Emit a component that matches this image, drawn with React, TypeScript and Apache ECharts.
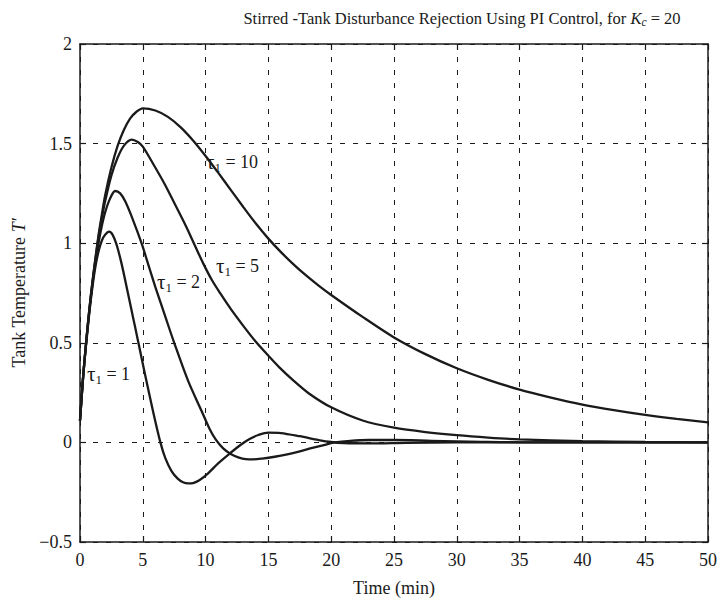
import React, { useEffect, useRef } from "react";
import * as echarts from "echarts";

// Time samples (min) and responses T' for each tau_I
const t1 = [0, 0.25, 0.5, 0.75, 1.0, 1.25, 1.5, 1.75, 2.0, 2.33, 2.6, 2.9, 3.3, 3.78, 4.2, 4.65, 5.2, 5.8, 6.4, 6.8, 7.3, 7.8, 8.2, 8.6, 9.0, 9.5, 10.2, 11.0, 11.9, 12.8, 13.5, 14.2, 15.0, 16.0, 17.5, 19.0, 20.0, 21.0, 23.0, 26.0, 30.0, 50.0];
const v1 = [0.11, 0.33, 0.5, 0.655, 0.785, 0.89, 0.965, 1.015, 1.043, 1.058, 1.042, 0.995, 0.9, 0.76, 0.635, 0.5, 0.335, 0.16, 0.0, -0.08, -0.145, -0.183, -0.2, -0.206, -0.204, -0.19, -0.155, -0.105, -0.057, -0.012, 0.017, 0.037, 0.049, 0.047, 0.031, 0.012, 0.002, -0.003, -0.005, -0.002, 0.0, 0.0];

const t2 = [0, 0.25, 0.5, 0.75, 1.0, 1.25, 1.5, 1.75, 2.0, 2.4, 2.8, 3.2, 3.6, 4.2, 4.9, 5.5, 6.0, 6.8, 7.5, 8.6, 9.7, 10.3, 10.8, 11.4, 12.0, 12.6, 13.2, 13.8, 14.5, 15.5, 16.5, 17.5, 18.5, 19.5, 20.3, 21.5, 23.0, 25.0, 28.0, 32.0, 36.0, 50.0];
const v2 = [0.11, 0.33, 0.51, 0.665, 0.8, 0.915, 1.01, 1.09, 1.155, 1.225, 1.262, 1.25, 1.21, 1.12, 1.0, 0.88, 0.78, 0.63, 0.5, 0.31, 0.155, 0.07, 0.015, -0.03, -0.058, -0.075, -0.084, -0.085, -0.081, -0.072, -0.06, -0.045, -0.028, -0.012, 0.0, 0.008, 0.012, 0.012, 0.008, 0.003, 0.0, 0.0];

const t5 = [0, 0.25, 0.5, 0.75, 1.0, 1.25, 1.5, 1.75, 2.0, 2.5, 3.0, 3.5, 4.12, 4.6, 5.0, 5.9, 6.8, 7.6, 8.4, 9.1, 9.8, 10.5, 11.2, 12.0, 13.0, 14.0, 15.0, 15.85, 17.0, 18.2, 20.0, 22.5, 25.0, 27.5, 30.0, 32.5, 35.0, 40.0, 45.0, 50.0];
const v5 = [0.11, 0.33, 0.51, 0.67, 0.81, 0.93, 1.04, 1.13, 1.21, 1.34, 1.43, 1.49, 1.52, 1.508, 1.485, 1.39, 1.29, 1.19, 1.09, 0.995, 0.9, 0.815, 0.745, 0.67, 0.585, 0.505, 0.435, 0.378, 0.31, 0.247, 0.176, 0.11, 0.074, 0.052, 0.036, 0.024, 0.015, 0.006, 0.002, 0.0];

const t10 = [0, 0.25, 0.5, 0.75, 1.0, 1.25, 1.5, 1.75, 2.0, 2.5, 3.0, 3.5, 4.0, 4.5, 5.0, 6.0, 7.0, 8.0, 9.0, 10.0, 11.0, 12.0, 13.0, 14.0, 15.0, 16.0, 17.0, 18.0, 19.0, 20.0, 22.5, 25.0, 27.5, 30.0, 32.5, 35.0, 37.5, 40.0, 42.5, 45.0, 47.5, 50.0];
const v10 = [0.11, 0.33, 0.51, 0.67, 0.81, 0.935, 1.05, 1.148, 1.24, 1.38, 1.49, 1.57, 1.627, 1.66, 1.677, 1.666, 1.634, 1.583, 1.516, 1.438, 1.354, 1.268, 1.182, 1.099, 1.023, 0.955, 0.894, 0.838, 0.787, 0.74, 0.63, 0.527, 0.443, 0.372, 0.314, 0.265, 0.225, 0.19, 0.162, 0.138, 0.118, 0.101];

const curveLabels = ["1", "2", "5", "10"];
const xTicks = [0, 5, 10, 15, 20, 25, 30, 35, 40, 45, 50];
const yTicks = [-0.5, 0, 0.5, 1, 1.5, 2];

const FONT = "'Liberation Serif', 'Times New Roman', serif";
const INK = "#1a1a1a";

function pairs(t: number[], v: number[]) {
  return t.map((x, i) => [x, v[i]]);
}

export default function App() {
  const ref = useRef<HTMLDivElement>(null);
  useEffect(() => {
    if (!ref.current) return;
    const chart = echarts.init(ref.current, null, { renderer: "svg" });
    const lineSeries = (t: number[], v: number[], name: string) => ({
      type: "line",
      name,
      data: pairs(t, v),
      smooth: 0.3,
      showSymbol: false,
      symbol: "none",
      xAxisIndex: 0,
      yAxisIndex: 0,
      lineStyle: { color: INK, width: 2.3 },
      z: 5,
    });
    const tauLabel = (x: number, y: number, val: string) => ({
      type: "text",
      x,
      y,
      style: {
        text: "{t|τ}{s|1}{n| = " + val + "}",
        fill: INK,
        verticalAlign: "middle",
        rich: {
          t: { fontFamily: FONT, fontSize: 21, fill: INK },
          s: { fontFamily: FONT, fontSize: 13, fill: INK, padding: [10, 0, 0, 0] },
          n: { fontFamily: FONT, fontSize: 18, fill: INK },
        },
      },
      z: 10,
    });
    const fmt = (v: number) => (v < 0 ? "\u2212" + String(-v) : String(v));
    chart.setOption({
      animation: false,
      backgroundColor: "#ffffff",
      title: {
        text: "Stirred -Tank Disturbance Rejection Using PI Control, for {i|K}{s|c} = 20",
        left: 457,
        top: 3,
        textAlign: "center",
        textStyle: {
          fontFamily: FONT,
          fontSize: 16.5,
          fontWeight: "normal",
          color: INK,
          rich: {
            i: { fontFamily: FONT, fontSize: 16.5, fontStyle: "italic", color: INK },
            s: { fontFamily: FONT, fontSize: 11.5, fontStyle: "italic", color: INK, padding: [8, 0, 0, 0] },
          },
        },
      },
      grid: { left: 80, right: 9, top: 44, bottom: 59, containLabel: false },
      xAxis: [
        {
          type: "value",
          min: xTicks[0],
          max: xTicks[xTicks.length - 1],
          interval: 5,
          position: "bottom",
          name: "Time (min)",
          nameLocation: "middle",
          nameGap: 37,
          nameTextStyle: { fontFamily: FONT, fontSize: 18, color: INK },
          axisLine: { show: true, onZero: false, lineStyle: { color: INK, width: 1.5 } },
          axisTick: { show: true, inside: true, length: 6, lineStyle: { color: INK, width: 1.2 } },
          axisLabel: { fontFamily: FONT, fontSize: 18, color: INK, margin: 9 },
          splitLine: { show: true, lineStyle: { color: INK, width: 1, type: [5, 8] } },
        },
        {
          type: "value",
          min: xTicks[0],
          max: xTicks[xTicks.length - 1],
          interval: 5,
          position: "top",
          axisLine: { show: true, onZero: false, lineStyle: { color: INK, width: 1.5 } },
          axisTick: { show: true, inside: true, length: 6, lineStyle: { color: INK, width: 1.2 } },
          axisLabel: { show: false },
          splitLine: { show: false },
        },
      ],
      yAxis: [
        {
          type: "value",
          min: yTicks[0],
          max: yTicks[yTicks.length - 1],
          interval: 0.5,
          position: "left",
          name: "Tank Temperature {i|T\u2032}",
          nameLocation: "middle",
          nameGap: 50,
          nameTextStyle: {
            fontFamily: FONT,
            fontSize: 18,
            color: INK,
            rich: { i: { fontFamily: FONT, fontSize: 18, fontStyle: "italic", color: INK } },
          },
          axisLine: { show: true, onZero: false, lineStyle: { color: INK, width: 1.5 } },
          axisTick: { show: true, inside: true, length: 6, lineStyle: { color: INK, width: 1.2 } },
          axisLabel: { fontFamily: FONT, fontSize: 18, color: INK, margin: 8, formatter: fmt },
          splitLine: { show: true, lineStyle: { color: INK, width: 1, type: [5, 8] } },
        },
        {
          type: "value",
          min: yTicks[0],
          max: yTicks[yTicks.length - 1],
          interval: 0.5,
          position: "right",
          axisLine: { show: true, onZero: false, lineStyle: { color: INK, width: 1.5 } },
          axisTick: { show: true, inside: true, length: 6, lineStyle: { color: INK, width: 1.2 } },
          axisLabel: { show: false },
          splitLine: { show: false },
        },
      ],
      series: [
        lineSeries(t1, v1, "tau1"),
        lineSeries(t2, v2, "tau2"),
        lineSeries(t5, v5, "tau5"),
        lineSeries(t10, v10, "tau10"),
      ],
      graphic: [
        tauLabel(87, 374, curveLabels[0]),
        tauLabel(157, 282, curveLabels[1]),
        tauLabel(216, 266, curveLabels[2]),
        tauLabel(206, 162, curveLabels[3]),
      ],
    });
    return () => chart.dispose();
  }, []);
  return (
    <div
      ref={ref}
      style={{ position: "fixed", left: 0, top: 0, width: 720, height: 602, background: "#fff" }}
    />
  );
}
